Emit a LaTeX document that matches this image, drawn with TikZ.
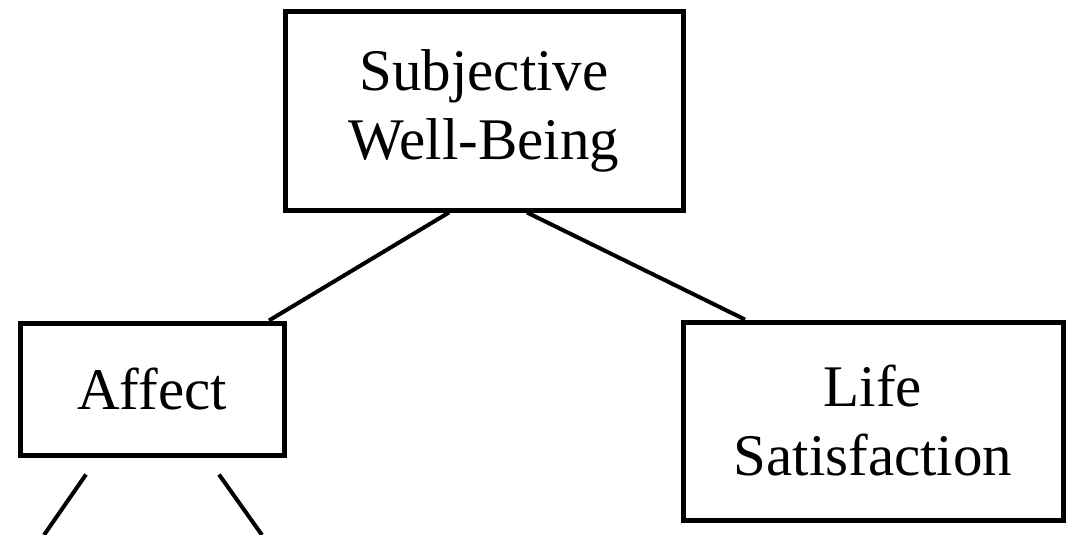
\documentclass[tikz,border=0pt]{standalone}
\usepackage{fontspec}
\setmainfont{Liberation Serif}
\begin{document}
\begin{tikzpicture}[x=1pt,y=-1pt,
  box/.style={draw=black, line width=5pt, fill=white, align=center, inner sep=0pt,
    font=\fontsize{59}{69}\selectfont},
  conn/.style={draw=black, line width=4pt}]
\useasboundingbox[fill=white] (0,0) rectangle (1066,535);
\node[box, minimum width=398pt, minimum height=198pt] (swb) at (484,111) {Subjective\\Well-Being};
\node[box, minimum width=264pt, minimum height=132pt] (aff) at (152,389) {Affect};
\node[box, minimum width=380pt, minimum height=198pt] (ls) at (873,421) {Life\\Satisfaction};
\coordinate (d1) at (44,535);
\coordinate (d2) at (262,535);
\draw[conn] ([xshift=-35pt]swb.south) -- ([xshift=117pt]aff.north);
\draw[conn] ([xshift=43pt]swb.south) -- ([xshift=-128pt]ls.north);
\draw[conn] ([xshift=-66pt,yshift=-17pt]aff.south) -- (d1);
\draw[conn] ([xshift=67pt,yshift=-17pt]aff.south) -- (d2);
\end{tikzpicture}
\end{document}
